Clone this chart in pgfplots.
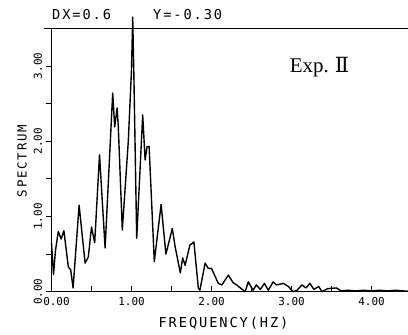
\documentclass[border=0pt]{standalone}
\usepackage{pgfplots}
\pgfplotsset{compat=1.18}
\usepackage{fontspec}
\newfontfamily\plotfont[LetterSpace=14]{DejaVu Sans Mono}
\newfontfamily\tickfont{DejaVu Sans Mono}
\newfontfamily\expfont{Liberation Serif}
\newfontfamily\romfont{DejaVu Serif}
\begin{document}
\begin{tikzpicture}[x=1bp,y=1bp]
\path[use as bounding box] (-51.5,-43.3) rectangle (356.5,291.7);
\begin{axis}[
  at={(0,0)}, anchor=south west, scale only axis,
  width=356.5bp, height=263.4bp,
  xmin=0, xmax=4.456, ymin=0, ymax=3.5,
  axis x line*=bottom, axis y line*=left,
  axis line style={-, line width=0.9pt},
  clip=false,
  xtick={0,1,2,3,4}, minor xtick={0.5,1.5,2.5,3.5},
  xticklabels={{\hspace*{10bp}0.00},1.00,2.00,3.00,4.00},
  ytick={0,1,2,3}, minor ytick={0.5,1.5,2.5},
  yticklabels={0.00,1.00,2.00,3.00},
  xtick align=inside, ytick align=outside,
  major tick length=6bp, minor tick length=6bp,
  tick style={line width=0.8pt, black},
  xticklabel style={font=\tickfont\fontsize{11}{12}\selectfont, yshift=-2bp},
  yticklabel style={font=\tickfont\fontsize{11}{12}\selectfont, rotate=90, anchor=south},
]
\addplot[black, line width=1.4pt, line join=round] coordinates {
(0.00,0.65) (0.025,0.23) (0.05,0.55) (0.085,0.80) (0.12,0.70) (0.155,0.81)
(0.21,0.33) (0.24,0.29) (0.27,0.05) (0.345,1.15) (0.42,0.38) (0.46,0.46)
(0.50,0.86) (0.54,0.65) (0.60,1.82) (0.67,0.58) (0.765,2.64) (0.79,2.19)
(0.82,2.44) (0.835,2.19) (0.885,0.82) (0.96,2.0) (1.0,2.95) (1.015,3.65)
(1.03,2.85) (1.065,0.71) (1.14,2.35) (1.17,1.75) (1.195,1.93) (1.22,1.93)
(1.285,0.40) (1.37,1.16) (1.43,0.50) (1.51,0.84) (1.545,0.60) (1.61,0.25)
(1.64,0.45) (1.67,0.35) (1.73,0.62) (1.78,0.66) (1.835,0.05) (1.855,0.02)
(1.92,0.38) (1.96,0.31) (2.00,0.31) (2.085,0.11) (2.13,0.09) (2.21,0.22)
(2.27,0.12) (2.315,0.09) (2.36,0.05) (2.42,0.00) (2.46,0.13) (2.52,0.02)
(2.56,0.09) (2.61,0.03) (2.66,0.11) (2.71,0.02) (2.77,0.13) (2.81,0.09)
(2.90,0.11) (2.96,0.07) (3.02,0.00) (3.07,0.02) (3.13,0.09) (3.18,0.05)
(3.23,0.11) (3.28,0.03) (3.34,0.07) (3.38,0.00) (3.45,0.04) (3.56,0.05)
(3.62,0.01) (3.70,0.02) (3.80,0.01) (3.90,0.02) (4.00,0.01) (4.10,0.02)
(4.20,0.01) (4.30,0.02) (4.40,0.01) (4.456,0.01)
};
\end{axis}
\draw[line width=0.9pt] (-7,263.4) -- (356.5,263.4);
\node[anchor=west, inner sep=0pt, font=\plotfont\fontsize{13.7}{15}\selectfont] at (0.5,276.7) {DX=0.6};
\node[anchor=west, inner sep=0pt, font=\plotfont\fontsize{13.7}{15}\selectfont] at (101.5,276.7) {Y=-0.30};
\node[rotate=90, inner sep=0pt, font=\plotfont\fontsize{12.5}{14}\selectfont] at (-29.5,130.7) {SPECTRUM};
\node[inner sep=0pt, font=\plotfont\fontsize{13.7}{15}\selectfont] at (172,-31.3) {FREQUENCY(HZ)};
\node[inner sep=0pt] at (268,224.7) {\expfont\fontsize{21}{22}\selectfont Exp.\hspace{6bp}{\romfont Ⅱ}};
\end{tikzpicture}
\end{document}
